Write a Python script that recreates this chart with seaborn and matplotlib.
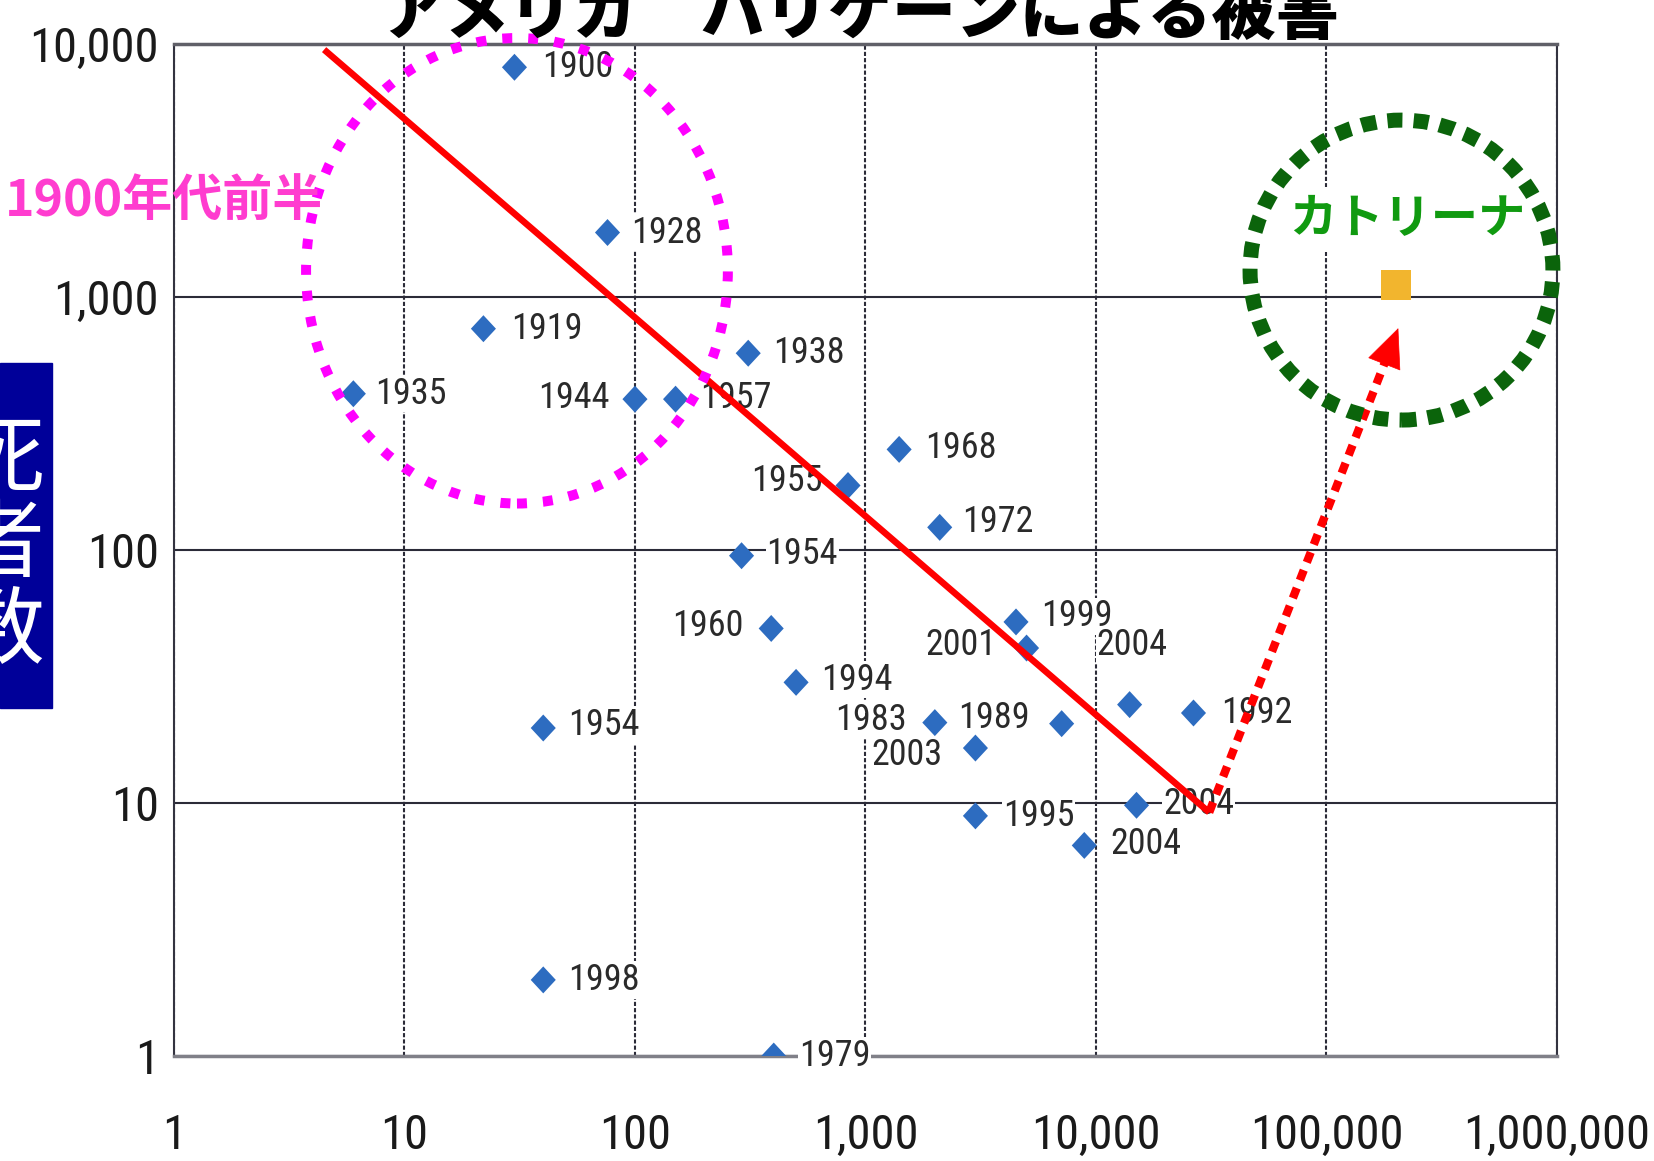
import numpy as np
import pandas as pd
import matplotlib
matplotlib.use("Agg")
import matplotlib.pyplot as plt
import seaborn as sns
from matplotlib import font_manager as fm
from matplotlib.patches import Ellipse, Rectangle
from matplotlib.markers import MarkerStyle
from matplotlib.ticker import FixedLocator, NullLocator

# ---------------- data ----------------
damage = [30, 76, 22, 6, 100, 150, 310, 1400, 840, 2100, 290, 390, 4500, 5000,
          500, 14000, 26500, 2000, 7100, 3000, 40, 3000, 15000, 8900, 40, 400]
deaths = [8100, 1800, 750, 415, 395, 395, 600, 250, 180, 123, 95, 49, 52, 41,
          30, 24.5, 22.7, 20.8, 20.6, 16.5, 19.8, 8.9, 9.8, 6.8, 2, 1]
years = ["1900", "1928", "1919", "1935", "1944", "1957", "1938", "1968", "1955",
         "1972", "1954", "1960", "1999", "2001", "1994", "2004", "1992", "1983",
         "1989", "2003", "1954", "1995", "2004", "2004", "1998", "1979"]
katrina_damage = [200000]
katrina_deaths = [1115]
tick_values = [1, 10, 100, 1000, 10000, 100000, 1000000]
x_tick_labels = ["1", "10", "100", "1,000", "10,000", "100,000", "1,000,000"]
y_tick_values = [1, 10, 100, 1000, 10000]
y_tick_labels = ["1", "10", "100", "1,000", "10,000"]
trend_x = [4.48, 31000]
trend_y = [9510, 9.19]
arrow_tip = (205000, 754)

title = "アメリカ　ハリケーンによる被害"
ylabel = "死\n者\n数"
early_label = "1900年代前半"
katrina_label = "カトリーナ"

# label placement (offset in points, alignment) - style only
label_place = [(20, 0, "left"), (17, 0, "left"), (20, 0, "left"), (16, 0, "left"),
               (-18, 1, "right"), (18, 1, "left"), (18, 0, "left"), (19, 1, "left"),
               (-18, 3, "right"), (16, 4, "left"), (18, 1, "left"), (-20, 2, "right"),
               (18, 4, "left"), (-22, 2, "right"), (18, 2, "left"), (2, 43, "center"),
               (20, 0, "left"), (-20, 2, "right"), (-23, 4, "right"), (-24, -5, "right"),
               (18, 2, "left"), (20, 0, "left"), (19, 1, "left"), (19, 1, "left"),
               (18, 0, "left"), (18, 0, "left")]

# ---------------- fonts ----------------
sns.set_theme(style="white")
CJK = ["Noto Sans CJK JP", "DejaVu Sans"]


def find_narrow():
    names = {f.name for f in fm.fontManager.ttflist}
    for p in ["Liberation Sans Narrow", "Arial Narrow", "Noto Sans Condensed",
              "Roboto Condensed", "Open Sans Condensed", "Noto Sans SemiCondensed",
              "Open Sans SemiCondensed"]:
        if p in names:
            return p, "normal"
    for f in fm.fontManager.ttflist:
        if f.stretch in ("condensed", "semi-condensed") and f.style == "normal":
            if "Mono" not in f.name and "Serif" not in f.name:
                return f.name, f.stretch
    return None, "normal"


narrow_name, narrow_stretch = find_narrow()
if narrow_name:
    NARROW = [narrow_name, "Liberation Sans", "DejaVu Sans"]
    tick_fs, label_fs = 35, 26
else:
    NARROW = ["Liberation Sans", "DejaVu Sans"]
    tick_fs, label_fs = 30, 23
    narrow_stretch = "normal"
plt.rcParams["font.family"] = NARROW
plt.rcParams["font.stretch"] = narrow_stretch

fig = plt.figure(figsize=(16.54, 11.61), dpi=100)
ax = fig.add_axes([0.1052, 0.0904, 0.9413 - 0.1052, 0.962 - 0.0904])

df = pd.DataFrame({"damage": damage, "deaths": deaths, "year": years})
kdf = pd.DataFrame({"damage": katrina_damage, "deaths": katrina_deaths})

diamond = MarkerStyle([(0, 1), (0.93, 0), (0, -1), (-0.93, 0), (0, 1)])
sns.scatterplot(data=df, x="damage", y="deaths", marker=diamond, s=377,
                color="#2d6cc0", edgecolor="none", linewidth=0, ax=ax, zorder=4)
sns.scatterplot(data=kdf, x="damage", y="deaths", marker="s", s=467,
                color="#f2b52e", edgecolor="none", linewidth=0, ax=ax, zorder=4)

ax.set_xscale("log")
ax.set_yscale("log")
ax.set_xlim(1, 1e6)
ax.set_ylim(1, 1e4)
ax.xaxis.set_major_locator(FixedLocator(tick_values))
ax.yaxis.set_major_locator(FixedLocator(y_tick_values))
ax.xaxis.set_minor_locator(NullLocator())
ax.yaxis.set_minor_locator(NullLocator())
ax.set_xticklabels(x_tick_labels)
ax.set_yticklabels(y_tick_labels)
ax.tick_params(axis="both", length=0, labelsize=tick_fs, labelcolor="#1a1a1a")
ax.tick_params(axis="x", pad=41)
ax.tick_params(axis="y", pad=11)
for lab in ax.get_xticklabels() + ax.get_yticklabels():
    lab.set_fontstretch(narrow_stretch)
ax.set_xlabel("")
ax.set_ylabel("")

ax.yaxis.grid(True, color="#2b2b38", lw=1.5, ls="-", zorder=1)
ax.xaxis.grid(True, color="#2b2b38", lw=1.5, ls=(0, (2, 1)), zorder=1)
ax.set_axisbelow(True)
for side in ["left", "right"]:
    ax.spines[side].set_color("#333340")
    ax.spines[side].set_linewidth(1.5)
    ax.spines[side].set_linestyle((0, (2, 1)))
ax.spines["top"].set_color("#606068")
ax.spines["top"].set_linewidth(2.5)
ax.spines["bottom"].set_color("#808088")
ax.spines["bottom"].set_linewidth(2.5)

# point labels
for (x, y, t), (dx, dy, ha) in zip(zip(damage, deaths, years), label_place):
    ax.annotate(t, (x, y), xytext=(dx, dy), textcoords="offset points",
                ha=ha, va="center", fontsize=label_fs, color="#2a2a2a", zorder=3,
                fontstretch=narrow_stretch,
                bbox=dict(fc="white", ec="none", pad=0.5))

# trend line
ax.plot(trend_x, trend_y, color="#ff0000", lw=4.7, solid_capstyle="butt", zorder=6)

# dotted arrow: dotted shaft + solid head
head_pts = 27.0
p_tip = ax.transData.transform(arrow_tip)
p_start = ax.transData.transform((trend_x[1], trend_y[1]))
u = (p_tip - p_start) / np.linalg.norm(p_tip - p_start)
head_px = head_pts * fig.dpi / 72.0
p_base = p_tip - u * (head_px + 1)
base = ax.transData.inverted().transform(p_base)
p_shaft_end = ax.transData.inverted().transform(p_tip - u * (head_px - 4))
ax.plot([trend_x[1], p_shaft_end[0]], [trend_y[1], p_shaft_end[1]],
        color="#ff0000", lw=6, ls=(0, (1.3, 1.0)), zorder=6)
ax.annotate("", xy=arrow_tip, xytext=tuple(base),
            arrowprops=dict(arrowstyle="-|>,head_length=1.35,head_width=0.6",
                            mutation_scale=20, color="#ff0000", lw=0.5,
                            shrinkA=0, shrinkB=0),
            zorder=6)

# ellipses
ax.add_patch(Ellipse((0.248, 0.776), 0.305, 0.460, transform=ax.transAxes,
                     fill=False, ec="#ff00ff", lw=7.2, ls=(0, (1, 1.6)),
                     clip_on=False, zorder=7))
ax.add_patch(Ellipse((0.8876, 0.7767), 0.219, 0.2964, transform=ax.transAxes,
                     fill=False, ec="#0b640b", lw=10.8, ls=(0, (1, 0.75)),
                     clip_on=False, zorder=7))

# annotation texts
fig.text(0.003, 0.826, early_label, family=CJK, fontsize=36, fontweight="bold",
         color="#ff3ccf", ha="left", va="center")
ax.text(0.851, 0.811, katrina_label, transform=fig.transFigure, family=CJK,
        fontsize=34, fontweight="bold", color="#109a10", ha="center", va="center",
        zorder=6, bbox=dict(fc="white", ec="none", pad=6))

# title (partly cut off at the top)
fig.text(0.52, 0.987, title, family=CJK, fontsize=46, fontweight="heavy",
         color="black", ha="center", va="center")

# y label box
fig.patches.append(Rectangle((0, 0.3902), 0.0314, 0.2971, transform=fig.transFigure,
                             color="#000099", zorder=0))
fig.text(0.001, 0.530, ylabel, family=CJK, fontsize=61, color="white",
         ha="center", va="center", linespacing=1.0)

fig.savefig("out.png", dpi=100)
